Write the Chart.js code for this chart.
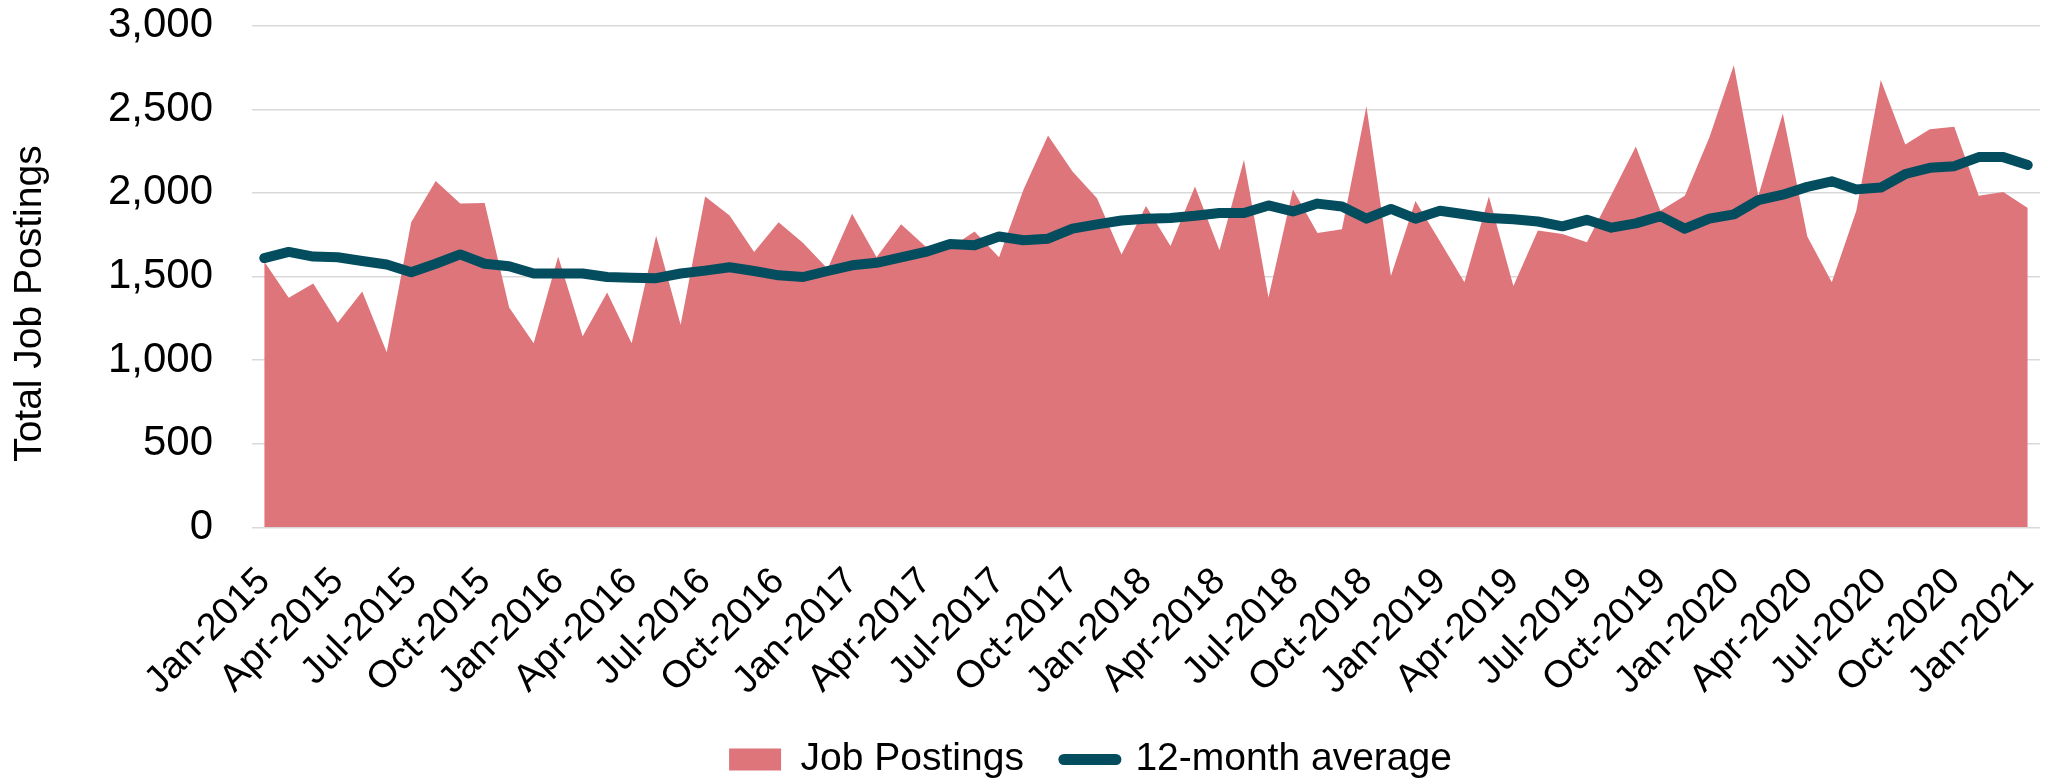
<!DOCTYPE html>
<html lang="en">
<head>
  <meta charset="UTF-8">
  <title>Total Job Postings</title>
  <style>
    html, body { margin: 0; padding: 0; background: #fff; }
    #chartContainer { width: 2051px; height: 782px; }
  </style>
</head>
<body>
  <div id="chartContainer">
    <canvas id="myChart"></canvas>
  </div>

  <script src="https://cdn.jsdelivr.net/npm/chart.js@4.4.2/dist/chart.umd.min.js"></script>
  <script>
    // Month labels Jan-2015 .. Jan-2021
    const monthNames = ['Jan', 'Feb', 'Mar', 'Apr', 'May', 'Jun', 'Jul', 'Aug', 'Sep', 'Oct', 'Nov', 'Dec'];
    const years = [2015, 2016, 2017, 2018, 2019, 2020];
    const categories = [];
    years.forEach(y => monthNames.forEach(m => categories.push(m + '-' + y)));
    categories.push('Jan-2021');

    // Monthly job postings
    const jobPostings = [
      1590, 1373, 1458, 1223, 1411, 1047, 1824, 2071, 1936, 1940, 1315, 1101,
      1619, 1143, 1405, 1101, 1743, 1212, 1979, 1865, 1647, 1824, 1700, 1546,
      1876, 1615, 1812, 1679, 1670, 1769, 1615, 2021, 2343, 2128, 1968, 1632,
      1921, 1683, 2039, 1657, 2199, 1375, 2021, 1760, 1782, 2518, 1503, 1951,
      1711, 1465, 1979, 1443, 1775, 1754, 1705, 1989, 2278, 1893, 1983, 2332,
      2764, 1983, 2475, 1739, 1465, 1893, 2675, 2289, 2381, 2396, 1983, 2006,
      1910
    ];

    // 12-month average
    const movingAverage = [
      1610, 1647, 1619, 1615, 1593, 1572, 1525, 1576, 1632, 1576, 1561, 1518,
      1518, 1518, 1497, 1493, 1490, 1518, 1535, 1555, 1533, 1507, 1497, 1533,
      1567, 1582, 1615, 1647, 1694, 1687, 1739, 1717, 1726, 1786, 1812, 1835,
      1846, 1850, 1863, 1880, 1880, 1925, 1889, 1936, 1919, 1846, 1904, 1846,
      1893, 1872, 1850, 1842, 1829, 1800, 1839, 1792, 1818, 1861, 1786, 1846,
      1872, 1957, 1989, 2036, 2069, 2021, 2032, 2113, 2150, 2160, 2214, 2214,
      2167
    ];

    const yTicks = [0, 500, 1000, 1500, 2000, 2500, 3000];

    const areaColor = '#de757b';
    const lineColor = '#034d5e';
    const fontFamily = "'Liberation Sans', Arial, sans-serif";

    // nudge the legend so it sits where the original one does
    const legendShift = {
      id: 'legendShift',
      afterLayout(chart) {
        chart.legend.left += 141;
        chart.legend.top += 7;
      }
    };

    const ctx = document.getElementById('myChart').getContext('2d');

    const chart = new Chart(ctx, {
      type: 'line',
      data: {
        labels: categories,
        datasets: [{
          label: 'Job Postings',
          data: jobPostings,
          backgroundColor: areaColor,
          borderColor: 'rgba(0,0,0,0)',
          borderWidth: 0,
          pointRadius: 0,
          fill: 'origin',
          tension: 0
        }, {
          label: '12-month average',
          data: movingAverage,
          borderColor: lineColor,
          borderWidth: 10,
          borderCapStyle: 'round',
          borderJoinStyle: 'round',
          pointRadius: 0,
          fill: false,
          tension: 0
        }]
      },
      options: {
        responsive: true,
        maintainAspectRatio: false,
        devicePixelRatio: 1,
        animation: false,
        layout: {
          padding: { top: 25.7, right: 11, bottom: 0, left: 0 }
        },
        scales: {
          x: {
            offset: true,
            grid: { display: false, drawTicks: false },
            border: { display: false },
            ticks: {
              autoSkip: false,
              minRotation: 45,
              maxRotation: 45,
              padding: 32,
              color: '#000',
              font: { family: fontFamily, size: 38 },
              callback: (value, index) => (index % 3 === 0 ? categories[index] : null)
            },
            afterFit: s => {
              s.height = 165.7;
              s.paddingLeft = 0;
              s.paddingRight = 0;
            }
          },
          y: {
            min: 0,
            max: 3000,
            afterBuildTicks: s => { s.ticks = yTicks.map(v => ({ value: v })); },
            grid: { color: '#d9d9d9', lineWidth: 1.5, drawTicks: false },
            border: { display: false },
            ticks: {
              padding: 39,
              color: '#000',
              font: { family: fontFamily, size: 42 },
              callback: v => v.toLocaleString('en-US')
            },
            title: {
              display: true,
              text: 'Total Job Postings     ',
              color: '#000',
              font: { family: fontFamily, size: 39 },
              padding: { top: 7, bottom: 0 }
            },
            afterFit: s => {
              s.width = 252;
              s.paddingTop = 0;
              s.paddingBottom = 0;
            }
          }
        },
        plugins: {
          filler: { drawTime: 'beforeDatasetsDraw' },
          tooltip: { enabled: false },
          legend: {
            position: 'bottom',
            labels: {
              usePointStyle: true,
              boxWidth: 52,
              boxHeight: 22,
              pointStyleWidth: 52,
              padding: 40,
              color: '#000',
              font: { family: fontFamily, size: 39 },
              generateLabels: () => [{
                text: 'Job Postings',
                fillStyle: areaColor,
                strokeStyle: areaColor,
                lineWidth: 0,
                pointStyle: 'rect',
                datasetIndex: 0,
                hidden: false
              }, {
                text: '12-month average',
                fillStyle: lineColor,
                strokeStyle: lineColor,
                lineWidth: 11,
                lineCap: 'round',
                pointStyle: 'line',
                datasetIndex: 1,
                hidden: false
              }]
            }
          }
        }
      },
      plugins: [legendShift]
    });
  </script>
</body>
</html>
